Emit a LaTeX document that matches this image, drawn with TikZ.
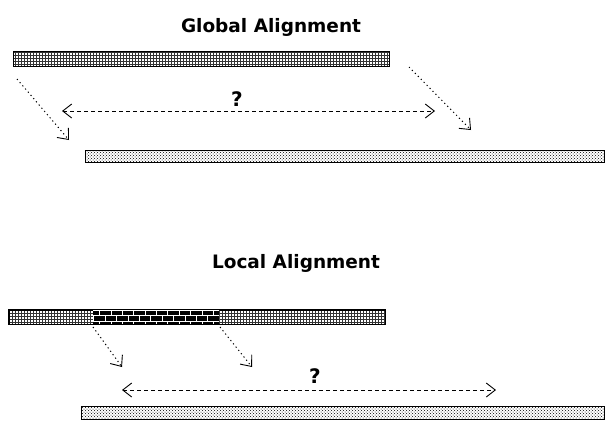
\documentclass[tikz,border=0pt]{standalone}
\usepackage{fontspec}
\setmainfont{DejaVu Sans}
\usepackage{tikz}
\usetikzlibrary{arrows.meta}
\usetikzlibrary{patterns}
\tikzstyle{title}=[inner sep=0pt, anchor=base, font=\fontsize{18.5}{20}\selectfont\bfseries]
\tikzstyle{quest}=[inner sep=0pt, font=\fontsize{20}{22}\selectfont\bfseries]
\tikzstyle{seqA}=[rectangle, inner sep=0pt, draw=black, line width=1pt, pattern=grid, pattern color=black!80, minimum height=15pt]
\tikzstyle{seqB}=[rectangle, inner sep=0pt, draw=black, line width=1pt, pattern=crosshatch dots, pattern color=black, minimum height=13pt]
\tikzstyle{core}=[rectangle, inner sep=0pt, preaction={fill=black}, pattern=bricks, pattern color=white, minimum height=13pt]
\tikzstyle{dotarrow}=[dash pattern=on 1.2pt off 3pt, line width=1pt, -{Straight Barb[length=9pt, width=15pt, line width=.9pt]}]
\tikzstyle{dasharrow}=[dash pattern=on 4pt off 3pt, line width=.9pt, {Straight Barb[length=9pt, width=14pt, line width=.9pt]}-{Straight Barb[length=9pt, width=14pt, line width=.9pt]}]

\begin{document}
\begin{tikzpicture}[x=1pt, y=-1pt]

      \useasboundingbox (0,0) rectangle (605,421);

      % global alignment
      \node[title] (gtitle) at (271,32) {Global Alignment};

      \node[seqA, minimum width=376pt] (gA) at (201,58.5) {};
      \node[seqB, minimum width=519.5pt, minimum height=12pt] (gB) at (344.75,156) {};

      \coordinate (gAleft) at (17,79);
      \coordinate (gBleft) at (69,140);
      \coordinate (gAright) at (409,67);
      \coordinate (gBright) at (471,130);

      \draw[dotarrow] (gAleft) -- (gBleft);
      \draw[dotarrow] (gAright) -- (gBright);

      \node[quest] (gq) at (237,99) {?};
      \coordinate (gspanL) at (62,111);
      \coordinate (gspanR) at (435,111);
      \draw[dasharrow] (gspanL) -- (gspanR);

      % local alignment
      \node[title] (ltitle) at (296,268) {Local Alignment};

      \node[seqA, minimum width=376pt, minimum height=14pt] (lA) at (197,317) {};
      \node[core, minimum width=126pt] (lcore) at (156,317) {};
      \draw[draw=black, line width=1pt] (lA.north west) rectangle (lA.south east);
      \node[seqB, minimum width=523.5pt] (lB) at (342.75,413) {};

      \coordinate (lAleft) at (93,327);
      \coordinate (lBleft) at (122,367);
      \coordinate (lAright) at (220,327);
      \coordinate (lBright) at (252,367);

      \draw[dotarrow] (lAleft) -- (lBleft);
      \draw[dotarrow] (lAright) -- (lBright);

      \node[quest] (lq) at (315,376) {?};
      \coordinate (lspanL) at (122,390);
      \coordinate (lspanR) at (496,390);
      \draw[dasharrow] (lspanL) -- (lspanR);

\end{tikzpicture}
\end{document}
